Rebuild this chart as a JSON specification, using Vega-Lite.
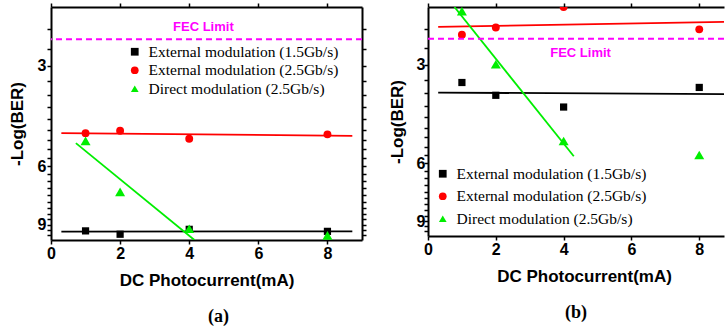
{
  "$schema": "https://vega.github.io/schema/vega-lite/v6.json",
  "padding": {"left": 8, "top": 2, "right": 0, "bottom": 0},
  "background": "white",
  "bounds": "flush",
  "spacing": 66,
  "config": {
    "view": {"stroke": null},
    "axis": {
      "domainColor": "black", "domainWidth": 2, "tickColor": "black", "tickWidth": 1.5, "tickSize": 4, "ticks": true,
      "grid": false, "labelFont": "Liberation Sans", "labelFontWeight": "bold", "labelFontSize": 16,
      "labelColor": "black", "titleFont": "Liberation Sans", "titleFontWeight": "bold", "titleFontSize": 17,
      "titleColor": "black", "labelFlush": false, "labelOverlap": false, "zindex": 1
    },
    "legend": {
      "title": null, "symbolSize": 60, "labelFont": "Liberation Serif", "labelFontSize": 15.5,
      "labelColor": "black", "padding": 0, "symbolStrokeWidth": 0, "labelLimit": 400
    },
    "title": {"font": "Liberation Serif", "fontSize": 18, "fontWeight": "bold", "color": "black"}
  },
  "data": {
    "values": [
      {"panel": "a", "kind": "point", "series": "External modulation (1.5Gb/s)", "x": 1, "y": 9.39},
      {"panel": "a", "kind": "point", "series": "External modulation (1.5Gb/s)", "x": 2, "y": 9.61},
      {"panel": "a", "kind": "point", "series": "External modulation (1.5Gb/s)", "x": 4, "y": 9.29},
      {"panel": "a", "kind": "point", "series": "External modulation (1.5Gb/s)", "x": 8, "y": 9.42},
      {"panel": "a", "kind": "point", "series": "External modulation (2.5Gb/s)", "x": 1, "y": 4.78},
      {"panel": "a", "kind": "point", "series": "External modulation (2.5Gb/s)", "x": 2, "y": 4.70},
      {"panel": "a", "kind": "point", "series": "External modulation (2.5Gb/s)", "x": 4, "y": 4.97},
      {"panel": "a", "kind": "point", "series": "External modulation (2.5Gb/s)", "x": 8, "y": 4.82},
      {"panel": "a", "kind": "point", "series": "Direct modulation (2.5Gb/s)", "x": 1, "y": 5.04},
      {"panel": "a", "kind": "point", "series": "Direct modulation (2.5Gb/s)", "x": 2, "y": 7.17},
      {"panel": "a", "kind": "point", "series": "Direct modulation (2.5Gb/s)", "x": 4, "y": 9.25},
      {"panel": "a", "kind": "point", "series": "Direct modulation (2.5Gb/s)", "x": 8, "y": 9.69},
      {"panel": "a", "kind": "fit", "series": "External modulation (1.5Gb/s)", "x": 0.3, "y": 9.44},
      {"panel": "a", "kind": "fit", "series": "External modulation (1.5Gb/s)", "x": 8.72, "y": 9.42},
      {"panel": "a", "kind": "fit", "series": "External modulation (2.5Gb/s)", "x": 0.3, "y": 4.78},
      {"panel": "a", "kind": "fit", "series": "External modulation (2.5Gb/s)", "x": 8.72, "y": 4.87},
      {"panel": "a", "kind": "fit", "series": "Direct modulation (2.5Gb/s)", "x": 0.72, "y": 5.12},
      {"panel": "a", "kind": "fit", "series": "Direct modulation (2.5Gb/s)", "x": 4.15, "y": 10.0},
      {"panel": "a", "kind": "fec", "y": 2.5},
      {"panel": "a", "kind": "label", "x": 4.41, "y": 2.3, "label": "FEC Limit"},
      {"panel": "b", "kind": "point", "series": "External modulation (1.5Gb/s)", "x": 1, "y": 3.40},
      {"panel": "b", "kind": "point", "series": "External modulation (1.5Gb/s)", "x": 2, "y": 3.72},
      {"panel": "b", "kind": "point", "series": "External modulation (1.5Gb/s)", "x": 4, "y": 4.04},
      {"panel": "b", "kind": "point", "series": "External modulation (1.5Gb/s)", "x": 8, "y": 3.52},
      {"panel": "b", "kind": "point", "series": "External modulation (2.5Gb/s)", "x": 1, "y": 2.43},
      {"panel": "b", "kind": "point", "series": "External modulation (2.5Gb/s)", "x": 2, "y": 2.31},
      {"panel": "b", "kind": "point", "series": "External modulation (2.5Gb/s)", "x": 4, "y": 2.0},
      {"panel": "b", "kind": "point", "series": "External modulation (2.5Gb/s)", "x": 8, "y": 2.34},
      {"panel": "b", "kind": "point", "series": "Direct modulation (2.5Gb/s)", "x": 1, "y": 2.06},
      {"panel": "b", "kind": "point", "series": "Direct modulation (2.5Gb/s)", "x": 2, "y": 2.99},
      {"panel": "b", "kind": "point", "series": "Direct modulation (2.5Gb/s)", "x": 4, "y": 5.13},
      {"panel": "b", "kind": "point", "series": "Direct modulation (2.5Gb/s)", "x": 8, "y": 5.66},
      {"panel": "b", "kind": "fit", "series": "External modulation (1.5Gb/s)", "x": 0.3, "y": 3.65},
      {"panel": "b", "kind": "fit", "series": "External modulation (1.5Gb/s)", "x": 8.75, "y": 3.69},
      {"panel": "b", "kind": "fit", "series": "External modulation (2.5Gb/s)", "x": 0.3, "y": 2.30},
      {"panel": "b", "kind": "fit", "series": "External modulation (2.5Gb/s)", "x": 8.75, "y": 2.22},
      {"panel": "b", "kind": "fit", "series": "Direct modulation (2.5Gb/s)", "x": 0.78, "y": 2.0},
      {"panel": "b", "kind": "fit", "series": "Direct modulation (2.5Gb/s)", "x": 4.30, "y": 5.71},
      {"panel": "b", "kind": "fec", "y": 2.5},
      {"panel": "b", "kind": "label", "x": 4.5, "y": 2.77, "label": "FEC Limit"}
    ]
  },
  "resolve": {"legend": {"color": "independent", "shape": "independent"}},
  "hconcat": [
    {
      "width": 311,
      "height": 233,
      "transform": [{"filter": "datum.panel === 'a'"}],
      "title": {"text": "(a)", "orient": "bottom", "anchor": "middle", "frame": "group", "dx": 12, "offset": 20},
      "resolve": {"axis": {"x": "independent", "y": "independent"}},
      "layer": [
        {
          "transform": [{"filter": "datum.kind === 'fit'"}],
          "mark": {"type": "line", "clip": true, "strokeWidth": 1.8},
          "encoding": {
            "x": {"field": "x", "type": "quantitative", "scale": {"domain": [0, 9], "nice": false, "zero": false},
                  "axis": {"orient": "top", "labels": false, "title": null, "values": [0, 2, 4, 6, 8],
                           "encode": {"ticks": {"update": {"y2": {"value": 4}}}}}},
            "y": {"field": "y", "type": "quantitative", "scale": {"type": "log", "domain": [2, 10], "reverse": true, "nice": false},
                  "axis": {"orient": "right", "labels": false, "title": null,
                           "values": [2.3333, 2.6667, 3, 3.3333, 3.6667, 4, 4.3333, 4.6667, 5, 5.3333, 5.6667, 6, 6.3333, 6.6667, 7, 7.3333, 7.6667, 8, 8.3333, 8.6667, 9, 9.3333, 9.6667],
                           "encode": {"ticks": {"update": {"x2": {"value": -4}}}}}},
            "detail": {"field": "series", "type": "nominal"},
            "color": {"condition": [
                        {"test": "datum.series === 'External modulation (2.5Gb/s)'", "value": "#ff0000"},
                        {"test": "datum.series === 'Direct modulation (2.5Gb/s)'", "value": "#00ee00"}],
                      "value": "#000000"}
          }
        },
        {
          "transform": [{"filter": "datum.kind === 'point'"}],
          "mark": {"type": "point", "filled": true, "opacity": 1, "clip": true},
          "encoding": {
            "x": {"field": "x", "type": "quantitative",
                  "axis": {"orient": "bottom", "values": [0, 2, 4, 6, 8], "title": "DC Photocurrent(mA)", "labelPadding": 1, "titlePadding": 11,
                           "encode": {"ticks": {"update": {"y2": {"value": -4}}}}}},
            "y": {"field": "y", "type": "quantitative",
                  "axis": {"orient": "left", "title": "-Log(BER)", "labelPadding": 1, "titlePadding": 11,
                           "values": [2.3333, 2.6667, 3, 3.3333, 3.6667, 4, 4.3333, 4.6667, 5, 5.3333, 5.6667, 6, 6.3333, 6.6667, 7, 7.3333, 7.6667, 8, 8.3333, 8.6667, 9, 9.3333, 9.6667],
                           "labelExpr": "datum.value === 3 || datum.value === 6 || datum.value === 9 ? datum.value : ''",
                           "encode": {"ticks": {"update": {"x2": {"value": 4}}}}}},
            "color": {"field": "series", "type": "nominal",
                      "scale": {"domain": ["External modulation (1.5Gb/s)", "External modulation (2.5Gb/s)", "Direct modulation (2.5Gb/s)"], "range": ["#000000", "#ff0000", "#00ee00"]},
                      "legend": {"orient": "none", "legendX": 76, "legendY": 37, "labelOffset": 6, "rowPadding": 1.5}},
            "shape": {"field": "series", "type": "nominal",
                      "scale": {"domain": ["External modulation (1.5Gb/s)", "External modulation (2.5Gb/s)", "Direct modulation (2.5Gb/s)"], "range": ["square", "circle", "triangle-up"]},
                      "legend": {"orient": "none", "legendX": 76, "legendY": 37, "labelOffset": 6, "rowPadding": 1.5}},
            "size": {"field": "series", "type": "nominal",
                     "scale": {"type": "ordinal", "domain": ["External modulation (1.5Gb/s)", "External modulation (2.5Gb/s)", "Direct modulation (2.5Gb/s)"], "range": [52, 62, 100]},
                     "legend": null}
          }
        },
        {
          "transform": [{"filter": "datum.kind === 'fec'"}],
          "mark": {"type": "rule", "color": "#ff00ff", "strokeDash": [6, 4], "strokeWidth": 2},
          "encoding": {"y": {"field": "y", "type": "quantitative", "axis": null}}
        },
        {
          "transform": [{"filter": "datum.kind === 'label'"}],
          "mark": {"type": "text", "color": "#ff00ff", "font": "Liberation Sans", "fontWeight": "bold", "fontSize": 13, "align": "center", "baseline": "middle"},
          "encoding": {
            "x": {"field": "x", "type": "quantitative", "axis": null},
            "y": {"field": "y", "type": "quantitative", "axis": null},
            "text": {"field": "label"}
          }
        }
      ]
    },
    {
      "width": 296,
      "height": 229,
      "transform": [{"filter": "datum.panel === 'b'"}],
      "title": {"text": "(b)", "orient": "bottom", "anchor": "middle", "frame": "group", "dx": 0, "offset": 20},
      "resolve": {"axis": {"x": "independent", "y": "independent"}},
      "layer": [
        {
          "transform": [{"filter": "datum.kind === 'fit'"}],
          "mark": {"type": "line", "clip": true, "strokeWidth": 1.8},
          "encoding": {
            "x": {"field": "x", "type": "quantitative", "scale": {"domain": [0, 8.73], "nice": false, "zero": false},
                  "axis": {"orient": "top", "labels": false, "title": null, "values": [0, 2, 4, 6, 8],
                           "encode": {"ticks": {"update": {"y2": {"value": 4}}}}}},
            "y": {"field": "y", "type": "quantitative", "scale": {"type": "log", "domain": [2, 10], "reverse": true, "nice": false},
                  "axis": null},
            "detail": {"field": "series", "type": "nominal"},
            "color": {"condition": [
                        {"test": "datum.series === 'External modulation (2.5Gb/s)'", "value": "#ff0000"},
                        {"test": "datum.series === 'Direct modulation (2.5Gb/s)'", "value": "#00ee00"}],
                      "value": "#000000"}
          }
        },
        {
          "transform": [{"filter": "datum.kind === 'point'"}],
          "mark": {"type": "point", "filled": true, "opacity": 1, "clip": true},
          "encoding": {
            "x": {"field": "x", "type": "quantitative",
                  "axis": {"orient": "bottom", "values": [0, 2, 4, 6, 8], "title": "DC Photocurrent(mA)", "labelPadding": 1, "titlePadding": 11, "titleX": 156,
                           "encode": {"ticks": {"update": {"y2": {"value": -4}}}}}},
            "y": {"field": "y", "type": "quantitative",
                  "axis": {"orient": "left", "title": "-Log(BER)", "labelPadding": -1, "titlePadding": 10,
                           "values": [2.3333, 2.6667, 3, 3.3333, 3.6667, 4, 4.3333, 4.6667, 5, 5.3333, 5.6667, 6, 6.3333, 6.6667, 7, 7.3333, 7.6667, 8, 8.3333, 8.6667, 9, 9.3333, 9.6667],
                           "labelExpr": "datum.value === 3 || datum.value === 6 || datum.value === 9 ? datum.value : ''",
                           "encode": {"ticks": {"update": {"x2": {"value": 4}}}}}},
            "color": {"field": "series", "type": "nominal",
                      "scale": {"domain": ["External modulation (1.5Gb/s)", "External modulation (2.5Gb/s)", "Direct modulation (2.5Gb/s)"], "range": ["#000000", "#ff0000", "#00ee00"]},
                      "legend": {"orient": "none", "legendX": 7, "legendY": 159, "labelOffset": 6, "rowPadding": 5.5}},
            "shape": {"field": "series", "type": "nominal",
                      "scale": {"domain": ["External modulation (1.5Gb/s)", "External modulation (2.5Gb/s)", "Direct modulation (2.5Gb/s)"], "range": ["square", "circle", "triangle-up"]},
                      "legend": {"orient": "none", "legendX": 7, "legendY": 159, "labelOffset": 6, "rowPadding": 5.5}},
            "size": {"field": "series", "type": "nominal",
                     "scale": {"type": "ordinal", "domain": ["External modulation (1.5Gb/s)", "External modulation (2.5Gb/s)", "Direct modulation (2.5Gb/s)"], "range": [52, 62, 100]},
                     "legend": null}
          }
        },
        {
          "transform": [{"filter": "datum.kind === 'fec'"}],
          "mark": {"type": "rule", "color": "#ff00ff", "strokeDash": [6, 4], "strokeWidth": 2},
          "encoding": {"y": {"field": "y", "type": "quantitative", "axis": null}}
        },
        {
          "transform": [{"filter": "datum.kind === 'label'"}],
          "mark": {"type": "text", "color": "#ff00ff", "font": "Liberation Sans", "fontWeight": "bold", "fontSize": 13, "align": "center", "baseline": "middle"},
          "encoding": {
            "x": {"field": "x", "type": "quantitative", "axis": null},
            "y": {"field": "y", "type": "quantitative", "axis": null},
            "text": {"field": "label"}
          }
        }
      ]
    }
  ]
}
